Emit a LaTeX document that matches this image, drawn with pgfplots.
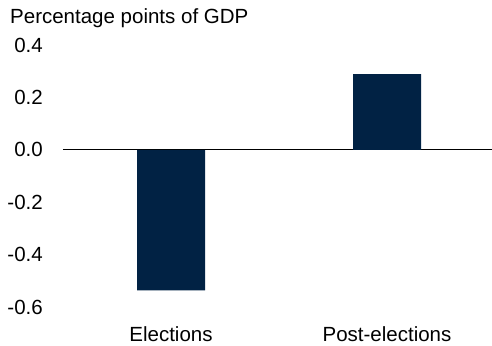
\documentclass[border=0pt]{standalone}
\usepackage{fontspec}
\setmainfont{Liberation Sans}
\usepackage{pgfplots}
\pgfplotsset{compat=1.18}
\definecolor{navy}{RGB}{1,34,68}
\begin{document}
\begin{tikzpicture}
\useasboundingbox (-63pt,-38pt) rectangle (429pt,307pt);
\begin{axis}[
  scale only axis,
  width=429pt, height=262pt,
  xmin=-0.5, xmax=1.486,
  ymin=-0.6, ymax=0.4,
  axis line style={draw=none},
  tick style={draw=none},
  xtick={0,1},
  xticklabels={Elections,Post-elections},
  ytick={-0.6,-0.4,-0.2,0,0.2,0.4},
  yticklabels={-0.6,-0.4,-0.2,0.0,0.2,0.4},
  yticklabel style={anchor=east, inner sep=0pt, xshift=-20pt, font=\fontsize{20.5}{24}\selectfont},
  xticklabel style={anchor=north, inner sep=0pt, yshift=-15pt, font=\fontsize{20.5}{24}\selectfont},
  extra y ticks={0},
  extra y tick labels={},
  extra y tick style={grid=major, major grid style={black, line width=0.9pt}},
  ybar, bar width=68pt,
]
\addplot[fill=navy, draw=none] coordinates {(0,-0.537) (1,0.289)};
\end{axis}
\node[anchor=base west, inner sep=0pt, font=\fontsize{20.5}{24}\selectfont] at (-53pt,283.7pt) {Percentage points of GDP};
\end{tikzpicture}
\end{document}
